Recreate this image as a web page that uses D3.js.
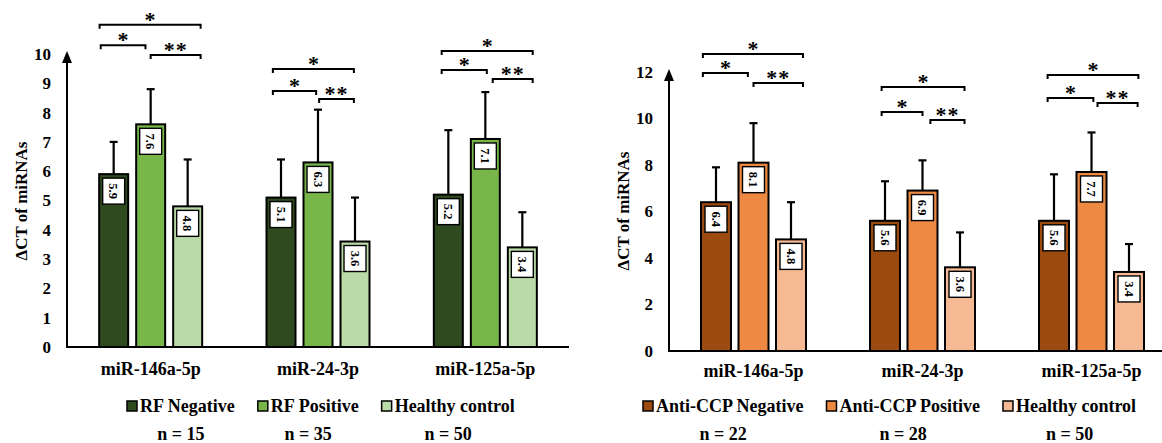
<!DOCTYPE html>
<html lang="en">
<head>
<meta charset="UTF-8">
<title>miRNA dCT bar charts</title>
<script src="https://cdn.jsdelivr.net/npm/d3@7"></script>
<style>
  body { margin: 0; background: #fff; }
  svg text { font-family: "Liberation Serif", "Times New Roman", serif; font-weight: bold; fill: #000; }
  .tick text { font-size: 17px; }
  .cat { font-size: 18px; }
  .legend text { font-size: 18px; }
  .ytitle { font-size: 17px; }
  .val { font-size: 12.5px; }
  .star { font-size: 22px; }
</style>
</head>
<body>
<div id="chart"></div>
<script>
// ---- data ----
var categories = ["miR-146a-5p", "miR-24-3p", "miR-125a-5p"];

var rfSeries = ["RF Negative", "RF Positive", "Healthy control"];
var rfN = ["n = 15", "n = 35", "n = 50"];
var rfMean = [[5.9, 7.6, 4.8], [5.1, 6.3, 3.6], [5.2, 7.1, 3.4]];
var rfSd = [[1.1, 1.2, 1.6], [1.3, 1.8, 1.5], [2.2, 1.6, 1.2]];
var rfTicks = [0, 1, 2, 3, 4, 5, 6, 7, 8, 9, 10];
var rfColors = ["#2f4a1f", "#78b64a", "#badba7"];

var ccpSeries = ["Anti-CCP Negative", "Anti-CCP Positive", "Healthy control"];
var ccpN = ["n = 22", "n = 28", "n = 50"];
var ccpMean = [[6.4, 8.1, 4.8], [5.6, 6.9, 3.6], [5.6, 7.7, 3.4]];
var ccpSd = [[1.5, 1.7, 1.6], [1.7, 1.3, 1.5], [2.0, 1.7, 1.2]];
var ccpTicks = [0, 2, 4, 6, 8, 10, 12];
var ccpColors = ["#9b4a10", "#ee8943", "#f5b993"];

// significance brackets: [level (y units), from slot, to slot], one triple per comparison
var bracketLabels = ["*", "*", "**"];
var rfBrackets = [
  [[11.0, -1.38, 1.35], [10.3, -1.35, -0.14], [9.97, 0, 1.35]],
  [[9.49, -1.22, 0.97], [8.74, -1.22, -0.05], [8.46, 0.03, 0.97]],
  [[10.1, -1.18, 1.28], [9.45, -1.18, 0.04], [9.15, 0.2, 1.28]]
];
var ccpBrackets = [
  [[12.77, -1.35, 1.32], [11.96, -1.35, -0.15], [11.53, 0, 1.32]],
  [[11.35, -1.09, 1.12], [10.28, -1.09, 0], [9.94, 0.21, 1.12]],
  [[11.87, -1.17, 1.25], [10.88, -1.17, 0.05], [10.67, 0.16, 1.23]]
];

var svg = d3.select("#chart").append("svg")
  .attr("width", 1162).attr("height", 443);

function panel(cfg) {
  var g = svg.append("g");
  var x = d3.scaleBand().domain(categories).range([cfg.x0, cfg.x1]);
  var y = d3.scaleLinear().domain([0, cfg.ymax]).range([cfg.y0, cfg.ytop]);
  var half = (cfg.barW * 3 + cfg.gap * 2) / 2;
  var xs = d3.scaleBand().domain([0, 1, 2]).range([-half, half])
    .paddingInner(cfg.gap / (cfg.barW + cfg.gap)).paddingOuter(0);
  var step = xs.step();

  // y axis labels (no tick marks)
  var ax = g.append("g")
    .attr("transform", "translate(" + cfg.x0 + ",0)")
    .call(d3.axisLeft(y).tickValues(cfg.ticks).tickSize(0).tickPadding(16));
  ax.select(".domain").remove();
  ax.selectAll("text").attr("font-family", null).attr("font-size", null);

  // y axis line with arrow
  g.append("line")
    .attr("x1", cfg.x0).attr("x2", cfg.x0)
    .attr("y1", cfg.y0 + 1).attr("y2", cfg.ytop + 6)
    .attr("stroke", "#000").attr("stroke-width", 2);
  g.append("path")
    .attr("d", "M" + (cfg.x0 - 5) + "," + (cfg.ytop + 9) + "L" + cfg.x0 + "," + (cfg.ytop - 3) +
      "L" + (cfg.x0 + 5) + "," + (cfg.ytop + 9) + "Z")
    .attr("fill", "#000");

  g.append("text").attr("class", "ytitle")
    .attr("transform", "translate(" + cfg.titleX + "," + cfg.titleY + ") rotate(-90)")
    .attr("text-anchor", "middle").attr("dy", "0.35em")
    .text("\u0394CT of miRNAs");

  var groups = g.selectAll(".grp").data(categories).enter().append("g")
    .attr("transform", function(d) { return "translate(" + (x(d) + x.bandwidth() / 2) + ",0)"; });

  groups.each(function(cat, ci) {
    var gg = d3.select(this);
    var means = cfg.mean[ci], sds = cfg.sd[ci];
    // bars
    gg.selectAll("rect.bar").data(means).enter().append("rect")
      .attr("class", "bar")
      .attr("x", function(d, i) { return xs(i); })
      .attr("y", function(d) { return y(d); })
      .attr("width", xs.bandwidth())
      .attr("height", function(d) { return y(0) - y(d); })
      .attr("fill", function(d, i) { return cfg.colors[i]; })
      .attr("stroke", "#000").attr("stroke-width", 2);
    // error bars
    means.forEach(function(m, i) {
      var cx = xs(i) + xs.bandwidth() / 2;
      gg.append("line").attr("x1", cx).attr("x2", cx)
        .attr("y1", y(m)).attr("y2", y(m + sds[i]))
        .attr("stroke", "#000").attr("stroke-width", 2.2);
      gg.append("line").attr("x1", cx - 4).attr("x2", cx + 4)
        .attr("y1", y(m + sds[i])).attr("y2", y(m + sds[i]))
        .attr("stroke", "#000").attr("stroke-width", 2.2);
      // value label box
      gg.append("rect")
        .attr("x", cx - 11).attr("y", y(m) + 4)
        .attr("width", 22).attr("height", 26)
        .attr("fill", "#fff").attr("stroke", "#000").attr("stroke-width", 1.4);
      gg.append("text").attr("class", "val")
        .attr("transform", "translate(" + cx + "," + (y(m) + 17) + ") rotate(90)")
        .attr("text-anchor", "middle").attr("dy", "0.35em")
        .text(d3.format(".1f")(m));
    });
    // brackets
    cfg.brackets[ci].forEach(function(b, k) {
      var by = y(b[0]), bx1 = b[1] * step, bx2 = b[2] * step;
      gg.append("path")
        .attr("d", "M" + bx1 + "," + (by + 4) + "V" + by + "H" + bx2 + "V" + (by + 4))
        .attr("fill", "none").attr("stroke", "#000").attr("stroke-width", 2);
      gg.append("text").attr("class", "star")
        .attr("x", (bx1 + bx2) / 2).attr("y", by + 2)
        .attr("text-anchor", "middle")
        .attr("letter-spacing", bracketLabels[k].length > 1 ? 1 : 0)
        .text(bracketLabels[k]);
    });
  });

  // x axis line
  g.append("line")
    .attr("x1", cfg.x0).attr("x2", cfg.x1)
    .attr("y1", cfg.y0).attr("y2", cfg.y0)
    .attr("stroke", "#000").attr("stroke-width", 2);

  g.selectAll(".cat").data(categories).enter().append("text")
    .attr("class", "cat")
    .attr("x", function(d) { return x(d) + x.bandwidth() / 2; })
    .attr("y", cfg.catY)
    .attr("text-anchor", "middle")
    .text(function(d) { return d; });

  // legend
  var lg = g.append("g").attr("class", "legend");
  var lx = cfg.legendX;
  cfg.series.forEach(function(s, i) {
    var it = lg.append("g");
    it.append("rect").attr("x", lx).attr("y", cfg.legendY - 11)
      .attr("width", 10).attr("height", 10)
      .attr("fill", cfg.colors[i]).attr("stroke", "#000").attr("stroke-width", 1.5);
    var t = it.append("text").attr("x", lx + 13).attr("y", cfg.legendY).text(s);
    var w = t.node().getComputedTextLength();
    var end = lx + 13 + w;
    it.append("text").attr("x", (lx + end) / 2).attr("y", cfg.nY)
      .attr("text-anchor", "middle").text(cfg.n[i]);
    lx = end + 23;
  });
}

panel({
  x0: 67, x1: 569, y0: 347, ytop: 54, ymax: 10, ticks: rfTicks,
  barW: 29, gap: 8, mean: rfMean, sd: rfSd, colors: rfColors,
  brackets: rfBrackets, series: rfSeries, n: rfN,
  titleX: 21, titleY: 201, catY: 375, legendX: 127, legendY: 412, nY: 440
});

panel({
  x0: 669, x1: 1176, y0: 351, ytop: 72, ymax: 12, ticks: ccpTicks,
  barW: 30, gap: 7.5, mean: ccpMean, sd: ccpSd, colors: ccpColors,
  brackets: ccpBrackets, series: ccpSeries, n: ccpN,
  titleX: 623, titleY: 211, catY: 377, legendX: 643, legendY: 412, nY: 440
});
</script>
</body>
</html>
